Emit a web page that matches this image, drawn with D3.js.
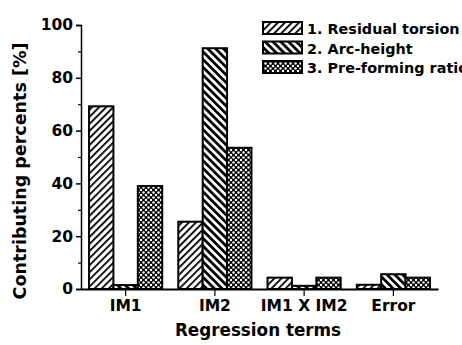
<!DOCTYPE html>
<html>
<head>
<meta charset="utf-8">
<script src="https://cdn.jsdelivr.net/npm/d3@7"></script>
<style>
  body { margin: 0; background: #fff; }
  svg text { font-family: "DejaVu Sans", "Liberation Sans", Arial, sans-serif; font-weight: bold; fill: #000; }
</style>
</head>
<body>
<div id="chart"></div>
<script>
// data
var categories = ["IM1", "IM2", "IM1 X IM2", "Error"];
var seriesNames = ["1. Residual torsion", "2. Arc-height", "3. Pre-forming ratio"];
var residualTorsion = [69.2, 25.5, 4.3, 1.6];
var arcHeight = [1.5, 91.2, 1.2, 5.6];
var preformingRatio = [39, 53.5, 4.3, 4.3];
var yTicks = [0, 20, 40, 60, 80, 100];

var series = [residualTorsion, arcHeight, preformingRatio];
var patterns = ["pat-fwd", "pat-back", "pat-cross"];

var W = 462, H = 345;
var margin = { top: 25, right: 24, bottom: 56, left: 81 };
var width = W - margin.left - margin.right,
    height = H - margin.top - margin.bottom;

var svg = d3.select("#chart").append("svg")
    .attr("width", W)
    .attr("height", H);

// hatch patterns
var defs = svg.append("defs");
var p1 = defs.append("pattern").attr("id", "pat-fwd")
    .attr("patternUnits", "userSpaceOnUse").attr("width", 5).attr("height", 5)
    .attr("patternTransform", "rotate(45)");
p1.append("rect").attr("width", 5).attr("height", 5).attr("fill", "#fff");
p1.append("rect").attr("x", 0).attr("width", 1.8).attr("height", 5).attr("fill", "#000");

var p2 = defs.append("pattern").attr("id", "pat-back")
    .attr("patternUnits", "userSpaceOnUse").attr("width", 5.5).attr("height", 5.5)
    .attr("patternTransform", "rotate(-45)");
p2.append("rect").attr("width", 5.5).attr("height", 5.5).attr("fill", "#fff");
p2.append("rect").attr("x", 0).attr("width", 2.8).attr("height", 5.5).attr("fill", "#000");

var p3 = defs.append("pattern").attr("id", "pat-cross")
    .attr("patternUnits", "userSpaceOnUse").attr("width", 5).attr("height", 5);
p3.append("rect").attr("width", 5).attr("height", 5).attr("fill", "#000");
[[0, 0], [5, 0], [0, 5], [5, 5], [2.5, 2.5]].forEach(function(c) {
  p3.append("circle").attr("cx", c[0]).attr("cy", c[1]).attr("r", 1.25).attr("fill", "#fff");
});

var g = svg.append("g")
    .attr("transform", "translate(" + margin.left + "," + margin.top + ")");

var x = d3.scaleBand().domain(categories).range([0, width])
    .paddingInner(0.18).paddingOuter(0.09);
var xs = d3.scaleBand().domain(d3.range(series.length)).range([0, x.bandwidth()]);
var y = d3.scaleLinear().domain([0, 100]).range([height, 0]);

// bars
series.forEach(function(vals, s) {
  g.selectAll(".bar" + s).data(vals).enter().append("rect")
      .attr("x", function(d, i) { return x(categories[i]) + xs(s); })
      .attr("y", function(d) { return y(d); })
      .attr("width", xs.bandwidth())
      .attr("height", function(d) { return y(0) - y(d); })
      .attr("fill", "url(#" + patterns[s] + ")")
      .attr("stroke", "#000")
      .attr("stroke-width", 2);
});

// y axis
var yAxis = g.append("g")
    .call(d3.axisLeft(y).tickValues(yTicks).tickSize(5).tickPadding(3));
yAxis.select(".domain").attr("stroke-width", 1.5);
yAxis.selectAll(".tick line").attr("stroke-width", 1.5);
yAxis.selectAll("text").style("font-size", "15.5px");
g.append("g")
    .call(d3.axisLeft(y).tickValues([10, 30, 50, 70, 90]).tickSize(3).tickFormat(""))
    .call(function(a) { a.select(".domain").remove(); a.selectAll("line").attr("stroke-width", 1.2); });

// x axis
var xAxis = g.append("g")
    .attr("transform", "translate(0," + height + ")")
    .call(d3.axisBottom(x).tickSize(7).tickSizeOuter(0).tickPadding(4));
xAxis.select(".domain").attr("stroke-width", 2);
xAxis.selectAll(".tick line").attr("stroke-width", 1.2);
xAxis.selectAll("text").style("font-size", "15.5px");

// axis titles
svg.append("text")
    .attr("transform", "translate(26,171) rotate(-90)")
    .attr("text-anchor", "middle")
    .style("font-size", "17.5px")
    .text("Contributing percents [%]");

svg.append("text")
    .attr("x", 258).attr("y", 336)
    .attr("text-anchor", "middle")
    .style("font-size", "16.8px")
    .text("Regression terms");

// legend
var legend = svg.append("g").attr("transform", "translate(263,22)");
seriesNames.forEach(function(name, s) {
  var row = legend.append("g").attr("transform", "translate(0," + (s * 19.5) + ")");
  row.append("rect")
      .attr("width", 39).attr("height", 12)
      .attr("fill", "url(#" + patterns[s] + ")")
      .attr("stroke", "#000").attr("stroke-width", 2);
  row.append("text")
      .attr("x", 44).attr("y", 12)
      .style("font-size", "14.4px")
      .text(name);
});
</script>
</body>
</html>
